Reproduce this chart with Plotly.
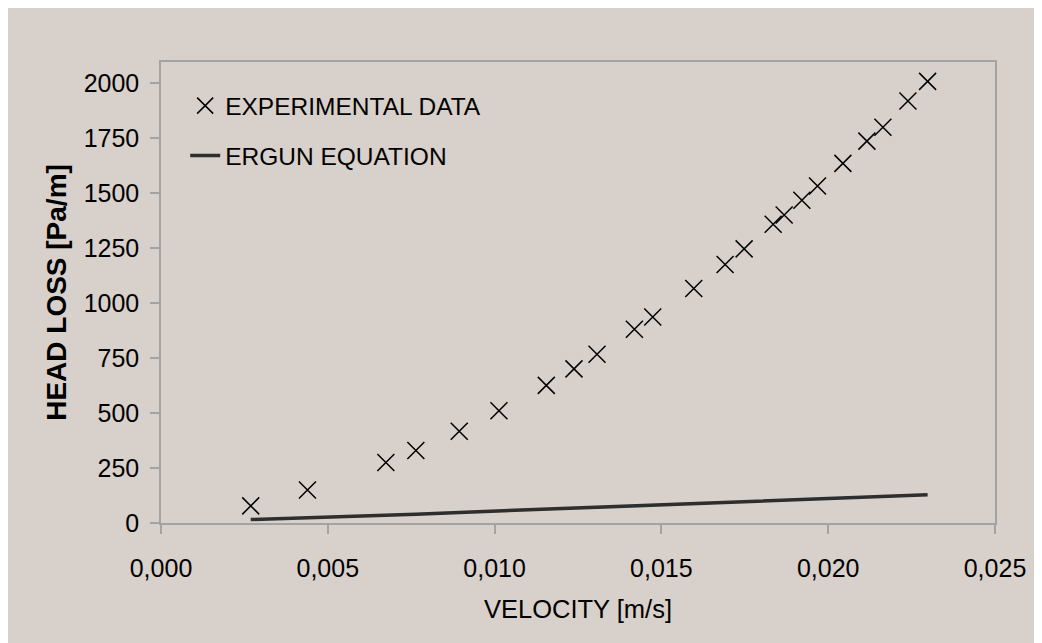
import plotly.graph_objects as go

# Experimental data
exp_velocity = [0.00269, 0.00439, 0.00674, 0.00764, 0.00894, 0.01013, 0.01155, 0.01238,
                0.01307, 0.01419, 0.01474, 0.01597, 0.01691, 0.01748, 0.01835, 0.01868,
                0.01921, 0.01968, 0.02044, 0.02116, 0.02164, 0.02239, 0.02298]
exp_headloss = [78, 150, 275, 330, 417, 511, 626, 701, 768, 881, 937, 1067, 1176, 1247,
                1359, 1401, 1468, 1533, 1636, 1737, 1800, 1920, 2009]

# Ergun equation
ergun_velocity = exp_velocity
ergun_headloss = [16, 24, 33, 40, 48, 55, 62, 66, 72, 77, 79, 90, 95, 97, 101, 103,
                  107, 108, 113, 118, 120, 124, 128]

x_ticks = [0.000, 0.005, 0.010, 0.015, 0.020, 0.025]
y_ticks = [0, 250, 500, 750, 1000, 1250, 1500, 1750, 2000]

BG = "#d8d0ca"
AX = "#a3a3a3"
FONT = "Liberation Sans, Arial, sans-serif"

fig = go.Figure()
fig.add_trace(go.Scatter(
    x=exp_velocity, y=exp_headloss, mode="markers", name="EXPERIMENTAL DATA",
    legendgroup="a",
    marker=dict(symbol="x-thin", size=17, color="black",
                line=dict(color="black", width=1.5)),
))
fig.add_trace(go.Scatter(
    x=ergun_velocity, y=ergun_headloss, mode="lines", name="ERGUN EQUATION",
    legendgroup="b",
    line=dict(color="#2e2e2e", width=3.5),
))

fig.update_layout(
    width=1042, height=643,
    margin=dict(l=153, r=55, t=54, b=128),
    paper_bgcolor=BG, plot_bgcolor=BG,
    separators=",.",
    font=dict(family=FONT, size=24, color="black"),
    showlegend=True,
    legend=dict(x=0.029, y=0.954, xanchor="left", yanchor="top",
                bgcolor="rgba(0,0,0,0)", font=dict(size=24.5),
                traceorder="grouped", tracegroupgap=15),
    xaxis=dict(range=[0, 0.025], tickvals=x_ticks, tickformat=".3f",
               showgrid=False, zeroline=False, showline=True, linecolor=AX,
               linewidth=1.5, mirror=True, ticks="outside", ticklen=9,
               tickcolor=AX, tickwidth=1.5, ticklabelstandoff=13,
               tickfont=dict(size=25),
               title=dict(text="VELOCITY [m/s]", font=dict(size=25.5), standoff=19)),
    yaxis=dict(range=[0, 2097], tickvals=y_ticks, tickformat="d",
               showgrid=False, zeroline=False, showline=True, linecolor=AX,
               linewidth=1.5, mirror=True, ticks="outside", ticklen=9,
               tickcolor=AX, tickwidth=1.5, ticklabelstandoff=6,
               tickfont=dict(size=25),
               title=dict(text="<b>HEAD LOSS [Pa/m]</b>", font=dict(size=28), standoff=9)),
)

fig.write_html("out.html")
